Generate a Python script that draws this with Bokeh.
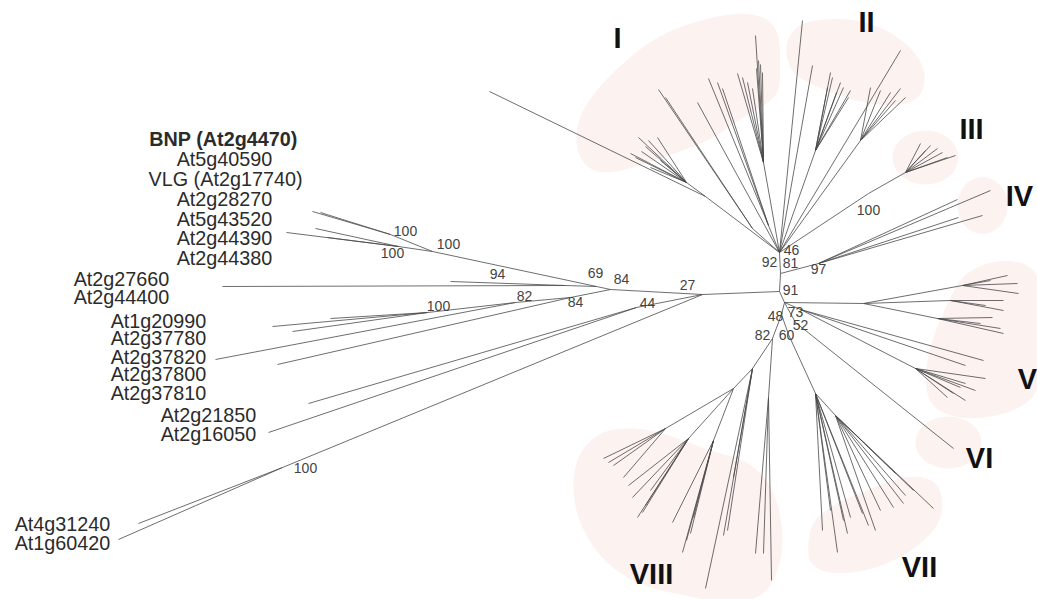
from bokeh.plotting import figure
from bokeh.models import Range1d, ColumnDataSource
from bokeh.core.properties import value
from bokeh.embed import file_html
from bokeh.resources import INLINE

# ---------------- tree data (reference pixel space) ----------------
# internal nodes: (name, x, y, parent)
spine_nodes = [
    ("S3", 779, 291, None), ("S2", 780, 273, "S3"), ("S1", 779, 252, "S2"),
    ("S4", 784, 302, "S3"), ("S5", 795, 322, "S4"), ("S8", 781, 314, "S4"),
    ("S6", 788, 334, "S8"), ("S7", 772, 338, "S8"),
]
left_nodes = [
    ("L27", 702, 294, "S3"), ("L84a", 610, 289, "L27"), ("L69", 596, 286, "L84a"),
    ("L94", 565, 285, "L69"), ("L100b", 432, 251, "L69"), ("L100a", 390, 234, "L100b"),
    ("L100d", 398, 246, "L100b"), ("L84b", 570, 297, "L84a"), ("L82", 515, 302, "L84b"),
    ("L100c", 427, 312, "L82"), ("L44", 636, 307, "L27"), ("L100e", 282, 467, "L27"),
]
clade_nodes = [
    ("Ia", 705, 196, "S1"), ("Ia2", 686, 182, "Ia"), ("Ib", 752, 228, "S1"),
    ("Ic", 768, 225, "S1"), ("Id", 763, 162, "S1"),
    ("IIa", 815, 150, "S1"), ("IIb", 860, 140, "S1"),
    ("III100", 868, 193, "S1"), ("III2", 905, 172, "III100"),
    ("IV97", 818, 263, "S2"),
    ("V1", 863, 303, "S4"), ("V1a", 962, 285, "V1"), ("V1b", 950, 300, "V1"),
    ("V1c", 937, 318, "V1"), ("V2a", 800, 309, "S4"), ("V2", 915, 368, "V2a"),
    ("VII", 815, 393, "S6"), ("VIIa", 835, 415, "VII"),
    ("VIIIa", 752, 368, "S7"), ("VIIIb", 733, 388, "VIIIa"), ("VIIIc", 665, 428, "VIIIb"),
    ("VIIId", 688, 438, "VIIIb"), ("VIIIe", 713, 440, "VIIIb"), ("VIIIf", 768, 397, "S7"),
]
# leaves: (x, y, parent)
left_leaves = [
    (222, 286, "L94"), (450, 281, "L94"),
    (312, 211, "L100a"), (320, 212, "L100a"),
    (286, 232, "L100d"), (315, 228, "L100d"), (327, 237, "L100d"),
    (272, 326, "L100c"), (292, 331, "L100c"), (330, 318, "L100c"),
    (215, 359, "L82"), (277, 364, "L84b"),
    (308, 403, "L44"), (268, 432, "L44"),
    (138, 523, "L100e"), (118, 539, "L100e"),
]
clade_I_leaves = [
    (489, 91, "Ia"),
    (638, 137, "Ia2"), (648, 140, "Ia2"), (657, 137, "Ia2"), (630, 153, "Ia2"),
    (635, 157, "Ia2"), (641, 151, "Ia2"), (650, 167, "Ia2"), (660, 160, "Ia2"), (645, 146, "Ia2"),
    (658, 89, "Ib"), (665, 97, "Ib"), (697, 102, "S1"),
    (708, 78, "Ic"), (717, 82, "Ic"), (722, 88, "Ic"),
    (737, 73, "Id"), (742, 77, "Id"), (747, 82, "Id"), (752, 88, "Id"), (755, 35, "Id"),
    (758, 60, "Id"), (760, 64, "Id"), (762, 72, "Id"), (756, 68, "Id"),
]
clade_II_leaves = [
    (802, 20, "S1"), (812, 65, "S1"), (900, 50, "S1"),
    (830, 72, "IIa"), (832, 77, "IIa"), (840, 82, "IIa"), (843, 87, "IIa"),
    (850, 90, "IIa"), (848, 97, "IIa"), (827, 87, "IIa"), (836, 92, "IIa"),
    (870, 87, "IIb"), (880, 90, "IIb"), (890, 92, "IIb"), (900, 88, "IIb"),
    (905, 97, "IIb"), (895, 100, "IIb"),
]
clade_III_IV_leaves = [
    (920, 143, "III2"), (930, 145, "III2"), (937, 148, "III2"), (942, 152, "III2"),
    (955, 155, "III2"), (947, 157, "III2"), (925, 150, "III2"),
    (990, 190, "IV97"), (957, 199, "IV97"), (982, 215, "IV97"), (958, 217, "IV97"),
]
clade_V_VI_leaves = [
    (1007, 275, "V1a"), (1017, 283, "V1a"), (1018, 293, "V1a"), (990, 280, "V1a"),
    (1003, 300, "V1b"), (1003, 310, "V1b"), (985, 305, "V1b"),
    (992, 317, "V1c"), (1000, 328, "V1c"), (1003, 333, "V1c"), (980, 323, "V1c"),
    (983, 360, "V2a"), (965, 365, "V2a"),
    (985, 378, "V2"), (965, 383, "V2"), (960, 387, "V2"), (947, 397, "V2"),
    (965, 400, "V2"), (953, 393, "V2"), (975, 390, "V2"),
    (953, 448, "S5"),
]
clade_VII_leaves = [
    (822, 530, "VII"), (837, 552, "VII"), (830, 510, "VII"), (847, 533, "VII"),
    (850, 517, "VII"), (862, 513, "VII"), (843, 520, "VII"), (868, 525, "VII"),
    (933, 508, "VIIa"), (913, 490, "VIIa"), (895, 473, "VIIa"), (903, 503, "VIIa"),
    (893, 507, "VIIa"), (880, 510, "VIIa"), (875, 530, "VIIa"), (905, 495, "VIIa"),
]
clade_VIII_leaves = [
    (603, 458, "VIIIc"), (613, 465, "VIIIc"), (623, 477, "VIIIc"), (608, 462, "VIIIc"),
    (632, 497, "VIIId"), (637, 517, "VIIId"), (642, 512, "VIIId"), (650, 490, "VIIId"),
    (628, 485, "VIIId"), (645, 505, "VIIId"),
    (672, 522, "VIIIe"), (682, 552, "VIIIe"), (690, 533, "VIIIe"), (693, 517, "VIIIe"), (686, 540, "VIIIe"),
    (705, 588, "VIIIa"), (723, 535, "VIIIa"), (727, 530, "VIIIa"), (733, 477, "VIIIa"),
    (755, 553, "VIIIf"), (763, 553, "VIIIf"), (771, 580, "VIIIf"),
]

# taxon labels
taxa = ["BNP (At2g4470)", "At5g40590", "VLG (At2g17740)", "At2g28270", "At5g43520",
        "At2g44390", "At2g44380", "At2g27660", "At2g44400", "At1g20990", "At2g37780",
        "At2g37820", "At2g37800", "At2g37810", "At2g21850", "At2g16050",
        "At4g31240", "At1g60420"]
taxa_x = [223, 224, 225, 224, 224, 224, 224, 121, 121, 158, 158, 158, 158, 158, 208, 208, 62, 62]
taxa_y = [138, 158, 178, 198, 218, 237, 257, 278, 296, 320, 337, 356, 373, 392, 414, 433, 523, 542]

# bootstrap values
boot = ["100", "100", "100", "94", "69", "84", "27", "82", "84", "100", "44", "100",
        "100", "46", "92", "81", "97", "91", "73", "48", "52", "82", "60"]
boot_x = [405, 448, 392, 497, 595, 621, 687, 524, 575, 438, 647, 305,
          868, 791, 769, 790, 818, 790, 795, 775, 800, 762, 786]
boot_y = [230, 243, 252, 273, 272, 278, 284, 295, 301, 305, 302, 467,
          209, 249, 261, 262, 268, 289, 311, 315, 324, 334, 334]

# clade labels
clades = ["I", "II", "III", "IV", "V", "VI", "VII", "VIII"]
clade_x = [617, 866, 971, 1019, 1027, 979, 919, 651]
clade_y = [37, 21, 128, 195, 378, 457, 566, 573]

# shaded clade regions (outline control points)
region_I = [(574, 143), (580, 110), (610, 73), (660, 32), (727, 12), (765, 15), (779, 33),
            (780, 70), (778, 97), (740, 118), (710, 140), (660, 158), (610, 174), (585, 168)]
region_II = [(784, 45), (795, 26), (815, 19), (850, 18), (885, 28), (912, 48), (925, 70),
             (923, 92), (908, 104), (880, 105), (850, 99), (815, 86), (790, 72)]
region_V = [(966, 272), (990, 261), (1015, 260), (1034, 268), (1042, 290), (1043, 340),
            (1040, 386), (1026, 404), (1000, 415), (965, 419), (937, 411), (926, 395),
            (925, 370), (931, 340), (944, 310), (954, 288)]
region_VII = [(807, 545), (812, 520), (835, 503), (870, 488), (905, 475), (932, 478), (943, 495),
              (940, 522), (921, 543), (895, 560), (860, 572), (826, 573), (809, 563)]
region_VIII = [(572, 497), (574, 462), (590, 438), (612, 428), (645, 428), (678, 438), (712, 451),
               (750, 461), (774, 490), (783, 530), (780, 566), (764, 596), (730, 604), (690, 596),
               (645, 587), (608, 566), (583, 533)]
ellipse_x = [925, 982, 948]
ellipse_y = [157, 205, 442]
ellipse_w = [66, 50, 66]
ellipse_h = [54, 57, 52]

SHADE = "#fcf2f0"


def chaikin(pts, n=4):
    for _ in range(n):
        new = []
        for i in range(len(pts)):
            a = pts[i]
            b = pts[(i + 1) % len(pts)]
            new.append((0.75 * a[0] + 0.25 * b[0], 0.75 * a[1] + 0.25 * b[1]))
            new.append((0.25 * a[0] + 0.75 * b[0], 0.25 * a[1] + 0.75 * b[1]))
        pts = new
    return pts


p = figure(width=1037, height=599, x_range=Range1d(0, 1037), y_range=Range1d(599, 0),
           output_backend="svg", toolbar_location=None, min_border=0)
p.xaxis.visible = False
p.yaxis.visible = False
p.xgrid.visible = False
p.ygrid.visible = False
p.outline_line_color = None
p.background_fill_color = "white"

# shaded regions
xs, ys = [], []
for reg in (region_I, region_II, region_V, region_VII, region_VIII):
    sm = chaikin(reg)
    xs.append([q[0] for q in sm])
    ys.append([q[1] for q in sm])
p.patches(xs, ys, fill_color=SHADE, line_color=None)
p.ellipse(x=ellipse_x, y=ellipse_y, width=ellipse_w, height=ellipse_h,
          fill_color=SHADE, line_color=None)

# edges
pos = {}
for name, x, y, par in spine_nodes + left_nodes + clade_nodes:
    pos[name] = (x, y)
x0, y0, x1, y1 = [], [], [], []
for name, x, y, par in spine_nodes + left_nodes + clade_nodes:
    if par is not None:
        px, py = pos[par]
        x0.append(px); y0.append(py); x1.append(x); y1.append(y)
for leaves in (left_leaves, clade_I_leaves, clade_II_leaves, clade_III_IV_leaves,
               clade_V_VI_leaves, clade_VII_leaves, clade_VIII_leaves):
    for x, y, par in leaves:
        px, py = pos[par]
        x0.append(px); y0.append(py); x1.append(x); y1.append(y)
edges = ColumnDataSource(dict(x0=x0, y0=y0, x1=x1, y1=y1))
p.segment("x0", "y0", "x1", "y1", source=edges, line_color="#4a4a4a",
          line_alpha=0.8, line_width=1.0)

# taxon labels
styles = ["bold"] + ["normal"] * (len(taxa) - 1)
tsrc = ColumnDataSource(dict(x=taxa_x, y=taxa_y, t=taxa, s=styles))
p.text("x", "y", text="t", source=tsrc, text_font=value("Liberation Sans"),
       text_font_size="19.8px", text_font_style="s", text_color="#2b2b2b",
       text_align="center", text_baseline="middle")

# bootstrap labels
p.text(x=boot_x, y=boot_y, text=boot, text_font=value("Liberation Sans"),
       text_font_size="14px", text_color="#444444",
       text_align="center", text_baseline="middle")

# clade labels
p.text(x=clade_x, y=clade_y, text=clades, text_font=value("Liberation Sans"),
       text_font_size="29px", text_font_style="bold", text_color="#111111",
       text_align="center", text_baseline="middle")

open("out.html", "w").write(file_html(p, INLINE))
